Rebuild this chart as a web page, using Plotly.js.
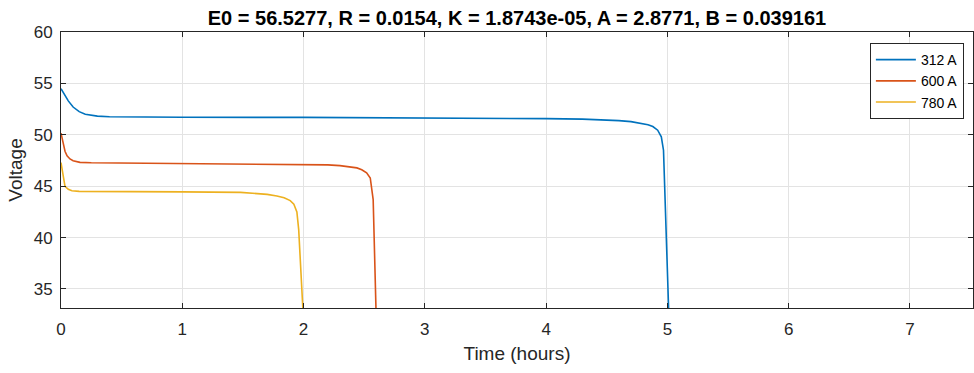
<!DOCTYPE html>
<html>
<head>
<meta charset="utf-8">
<script src="https://cdn.plot.ly/plotly-3.0.1.min.js"></script>
<style>html,body{margin:0;padding:0;background:#fff;}#chart{width:974px;height:373px;}</style>
</head>
<body>
<div id="chart"></div>
<script>
const seriesNames = ["312 A", "600 A", "780 A"];
const seriesColors = ["#0072BD", "#D95319", "#EDB120"];

const time312 = [0, 0.03, 0.06, 0.1, 0.15, 0.2, 0.3, 0.4, 0.6, 1.0, 2.0, 3.0, 3.5, 4.0, 4.3, 4.5, 4.6, 4.7, 4.78, 4.84, 4.88, 4.92, 4.95, 4.968, 5.01, 5.012];
const volt312 = [54.48, 53.9, 53.3, 52.7, 52.25, 52.0, 51.82, 51.75, 51.72, 51.71, 51.69, 51.65, 51.62, 51.57, 51.52, 51.45, 51.38, 51.28, 51.15, 50.98, 50.8, 50.45, 49.8, 48.5, 33.15, 30];

const time600 = [0, 0.02, 0.033, 0.05, 0.074, 0.1, 0.157, 0.25, 0.5, 1.0, 1.5, 2.0, 2.2, 2.3, 2.38, 2.44, 2.48, 2.52, 2.55, 2.574, 2.597, 2.6];
const volt600 = [50.17, 49.1, 48.4, 47.95, 47.65, 47.48, 47.32, 47.28, 47.26, 47.24, 47.2, 47.12, 47.07, 47.0, 46.9, 46.78, 46.6, 46.3, 45.8, 43.7, 33.15, 30];

const time780 = [0, 0.015, 0.033, 0.06, 0.09, 0.15, 0.3, 0.6, 1.0, 1.48, 1.6, 1.7, 1.78, 1.84, 1.89, 1.92, 1.945, 1.96, 1.994, 2.0];
const volt780 = [47.3, 46.0, 44.98, 44.7, 44.56, 44.5, 44.48, 44.47, 44.45, 44.4, 44.32, 44.2, 44.05, 43.88, 43.6, 43.25, 42.5, 40.77, 33.15, 30];

const xTicks = [0, 1, 2, 3, 4, 5, 6, 7];
const yTicks = [35, 40, 45, 50, 55, 60];
const titleText = "E0 = 56.5277, R = 0.0154, K = 1.8743e-05, A = 2.8771, B = 0.039161";

const xs = [time312, time600, time780];
const ys = [volt312, volt600, volt780];
const traces = seriesNames.map((n, i) => ({
  x: xs[i], y: ys[i], name: n, type: "scatter", mode: "lines",
  line: {color: seriesColors[i], width: 1.6}
}));

const font = "Liberation Sans, Arial, Helvetica, sans-serif";
const axisCommon = {
  showline: true, linecolor: "#262626", linewidth: 1, mirror: "ticks",
  ticks: "inside", ticklen: 5, tickcolor: "#262626", tickwidth: 1,
  showgrid: true, gridcolor: "#e3e3e3", gridwidth: 1, zeroline: false,
  tickfont: {family: font, size: 17, color: "#262626"}
};
const layout = {
  width: 974, height: 373,
  margin: {l: 61, r: 1, t: 32, b: 65},
  paper_bgcolor: "#fff", plot_bgcolor: "#fff",
  title: {text: "<b>" + titleText + "</b>", font: {family: font, size: 20, color: "#000"}, x: 0.5, xref: "paper", y: 0.953, yanchor: "middle"},
  xaxis: Object.assign({}, axisCommon, {range: [0, 7.52], tickvals: xTicks, ticktext: xTicks.map(String), ticklabelstandoff: 6,
    title: {text: "Time (hours)", font: {family: font, size: 19, color: "#262626"}, standoff: 8}}),
  yaxis: Object.assign({}, axisCommon, {range: [33.15, 60], tickvals: yTicks, ticktext: yTicks.map(String), ticklabelstandoff: 4,
    title: {text: "Voltage", font: {family: font, size: 19, color: "#262626"}, standoff: 6}}),
  showlegend: true,
  legend: {x: 0.990, xanchor: "right", y: 0.96, yanchor: "top", bgcolor: "#fff", bordercolor: "#262626", borderwidth: 1,
    font: {family: font, size: 14, color: "#000"}, tracegroupgap: 0, itemwidth: 40}
};
Plotly.newPlot("chart", traces, layout, {displayModeBar: false, staticPlot: true});
</script>
</body>
</html>
